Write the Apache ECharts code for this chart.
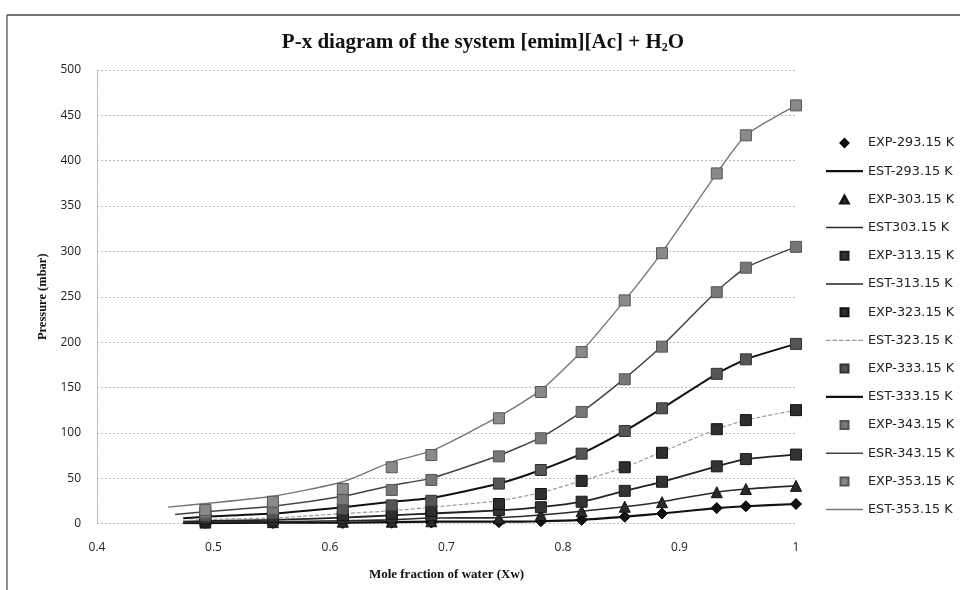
<!DOCTYPE html>
<html>
<head>
<meta charset="utf-8">
<script src="https://cdn.jsdelivr.net/npm/echarts@6/dist/echarts.min.js"></script>
<style>
html,body{margin:0;padding:0;background:#fff;}
#main{width:960px;height:590px;}
</style>
</head>
<body>
<div id="main"></div>
<script>
// Experimental mole fractions of water
var xExp = [0.493, 0.551, 0.611, 0.653, 0.687, 0.745, 0.781, 0.816, 0.853, 0.885, 0.932, 0.957, 1.0];
// Experimental pressures (mbar)
var exp293 = [0.3, 0.5, 0.5, 0.8, 1, 1.5, 2.5, 4, 7.5, 11, 17, 19, 21.5];
var exp303 = [1, 1.5, 2, 2, 2.5, 5.7, 9.4, 13.5, 18.5, 23.5, 34.5, 38, 41.5];
var exp313 = [3, 4, 6, 7.5, 9.4, 15, 18, 24, 36, 46, 63, 71, 76];
var exp323 = [5, 7, 9, 11, 14, 21.5, 32.5, 47, 62, 78, 104, 114, 125];
var exp333 = [8, 11, 16, 20, 25, 44, 59, 77, 102, 127, 165, 181, 198];
var exp343 = [12, 16, 27, 37, 48, 74, 94, 123, 159, 195, 255, 282, 305];
var exp353 = [15, 24, 38, 62, 75.5, 116, 145, 189, 246, 298, 386, 428, 461];

// Estimated curves: mole fractions and pressures
var xEstHigh = [0.461, 0.493, 0.551, 0.611, 0.653, 0.687, 0.745, 0.781, 0.816, 0.853, 0.885, 0.932, 0.957, 1.0];
var xEstMid = [0.467, 0.493, 0.551, 0.611, 0.653, 0.687, 0.745, 0.781, 0.816, 0.853, 0.885, 0.932, 0.957, 1.0];
var xEstLow = [0.474, 0.493, 0.551, 0.611, 0.653, 0.687, 0.745, 0.781, 0.816, 0.853, 0.885, 0.932, 0.957, 1.0];
var est293 = [0.5, 0.5, 0.8, 1, 1.5, 2, 2, 2.5, 4, 7.5, 11, 17, 19, 21.5];
var est303 = [1, 1.5, 2, 3, 4, 6, 6.5, 9.4, 13.5, 18.5, 24, 34.5, 38, 41.5];
var est313 = [2, 3, 4, 6.5, 9, 11, 14.5, 18, 24, 36, 46, 63, 71, 76];
var est323 = [3, 4.5, 6, 11, 14, 18, 25, 34, 47, 62, 79, 104, 114, 125];
var est333 = [5.7, 7.5, 11, 18, 24, 28, 44, 59, 77, 102, 127, 165, 181, 198];
var est343 = [10, 13, 19, 30, 42, 50, 75, 95, 123, 160, 196, 256, 282, 305];
var est353 = [18, 22, 30, 46, 68, 80, 118, 147, 190, 246, 299, 386, 428, 461];

var legendNames = ['EXP-293.15 K','EST-293.15 K','EXP-303.15 K','EST303.15 K','EXP-313.15 K','EST-313.15 K',
  'EXP-323.15 K','EST-323.15 K','EXP-333.15 K','EST-333.15 K','EXP-343.15 K','ESR-343.15 K','EXP-353.15 K','EST-353.15 K'];

var LINE_ICON = 'path://M0,0H40V1.6H0Z';
var DASH_ICON = 'path://M0,0H5V1.2H0Z M7,0H12V1.2H7Z M14,0H19V1.2H14Z M21,0H26V1.2H21Z M28,0H33V1.2H28Z M35,0H40V1.2H35Z';
var THICK_ICON = 'path://M0,0H40V2.4H0Z';
var SQUARE_ICON = 'path://M0,0H10V10H0Z';
var DIAMOND_ICON = 'path://M5,0L10,5L5,10L0,5Z';
var TRIANGLE_ICON = 'path://M5,0L10,9L0,9Z';

function pairs(xs, ys){ return xs.map(function(x,i){ return [x, ys[i]]; }); }

function estSeries(name, xs, ys, color, width, type){
  return {name:name, type:'line', data:pairs(xs,ys), showSymbol:false, symbol:'none', smooth:0.2,
    lineStyle:{color:color, width:width, type:type||'solid'}, itemStyle:{color:color}, z:2, animation:false};
}
function expSeries(name, ys, symbol, size, fill, border){
  return {name:name, type:'scatter', data:pairs(xExp,ys), symbol:symbol, symbolSize:size,
    itemStyle:{color:fill, borderColor:border, borderWidth:1, opacity:1}, z:3, animation:false};
}

var legendIcons = {
  'EXP-293.15 K':DIAMOND_ICON, 'EST-293.15 K':THICK_ICON,
  'EXP-303.15 K':TRIANGLE_ICON, 'EST303.15 K':LINE_ICON,
  'EXP-313.15 K':SQUARE_ICON, 'EST-313.15 K':LINE_ICON,
  'EXP-323.15 K':SQUARE_ICON, 'EST-323.15 K':DASH_ICON,
  'EXP-333.15 K':SQUARE_ICON, 'EST-333.15 K':THICK_ICON,
  'EXP-343.15 K':SQUARE_ICON, 'ESR-343.15 K':LINE_ICON,
  'EXP-353.15 K':SQUARE_ICON, 'EST-353.15 K':LINE_ICON
};

var chart = echarts.init(document.getElementById('main'), null, {renderer:'canvas'});
chart.setOption({
  backgroundColor:'#fff',
  animation:false,
  title:{
    text:'{a|P-x diagram of the system [emim][Ac] + H}{s|2}{a|O}',
    left:478, top:26, textAlign:'center',
    textStyle:{rich:{
      a:{fontFamily:'Liberation Serif', fontWeight:'bold', fontSize:21, color:'#111', lineHeight:24},
      s:{fontFamily:'Liberation Serif', fontWeight:'bold', fontSize:12, color:'#111', lineHeight:24, padding:[10,0,0,0]}
    }}
  },
  grid:{left:97, right:164, top:70, bottom:66.5},
  legend:{
    orient:'vertical', left:826, top:135.5, padding:0, itemGap:13.2, itemWidth:37, itemHeight:8,
    symbolKeepAspect:true,
    textStyle:{fontFamily:'DejaVu Sans', fontSize:12.8, color:'#222', lineHeight:15},
    data:legendNames.map(function(n){ return {name:n, icon:legendIcons[n]}; })
  },
  xAxis:{
    type:'value', min:0.4, max:1, interval:0.1,
    name:'Mole fraction of water (Xw)', nameLocation:'middle', nameGap:45,
    nameTextStyle:{fontFamily:'Liberation Serif', fontWeight:'bold', fontSize:13, color:'#111'},
    axisLine:{show:false}, axisTick:{show:false},
    axisLabel:{fontFamily:'Open Sans', fontSize:12, color:'#222', margin:18},
    splitLine:{show:false}
  },
  yAxis:{
    type:'value', min:0, max:500, interval:50,
    name:'Pressure (mbar)', nameLocation:'middle', nameGap:46,
    nameTextStyle:{fontFamily:'Liberation Serif', fontWeight:'bold', fontSize:12.5, color:'#111'},
    axisLine:{show:true, lineStyle:{color:'#bbb', width:1, type:[2,1]}}, axisTick:{show:false},
    axisLabel:{fontFamily:'Open Sans', fontSize:12, color:'#222', margin:16},
    splitLine:{show:true, lineStyle:{color:'#bbb', width:1, type:[2,2]}}
  },
  graphic:[
    {type:'line', shape:{x1:7, y1:15, x2:960, y2:15}, style:{stroke:'#444', lineWidth:1.5}},
    {type:'line', shape:{x1:7, y1:15, x2:7, y2:590}, style:{stroke:'#444', lineWidth:1.2}}
  ],
  series:[
    expSeries('EXP-293.15 K', exp293, 'diamond', 11, '#111', '#000'),
    estSeries('EST-293.15 K', xEstLow, est293, '#111', 2.2),
    expSeries('EXP-303.15 K', exp303, 'triangle', 11, '#2a2a2a', '#111'),
    estSeries('EST303.15 K', xEstLow, est303, '#2a2a2a', 1.6),
    expSeries('EXP-313.15 K', exp313, 'rect', 11, '#333', '#1a1a1a'),
    estSeries('EST-313.15 K', xEstLow, est313, '#222', 1.8),
    expSeries('EXP-323.15 K', exp323, 'rect', 11, '#2e2e2e', '#111'),
    estSeries('EST-323.15 K', xEstLow, est323, '#9a9a9a', 1.2, [4,2]),
    expSeries('EXP-333.15 K', exp333, 'rect', 11, '#555', '#333'),
    estSeries('EST-333.15 K', xEstLow, est333, '#111', 2),
    expSeries('EXP-343.15 K', exp343, 'rect', 11, '#777', '#555'),
    estSeries('ESR-343.15 K', xEstMid, est343, '#444', 1.5),
    expSeries('EXP-353.15 K', exp353, 'rect', 11, '#8a8a8a', '#555'),
    estSeries('EST-353.15 K', xEstHigh, est353, '#777', 1.4)
  ]
});
</script>
</body>
</html>
